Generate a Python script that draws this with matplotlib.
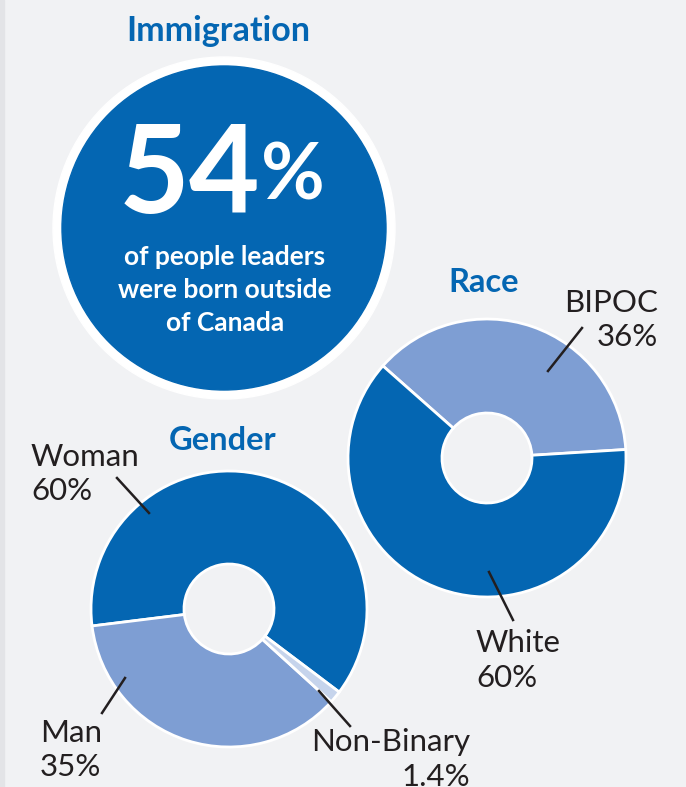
import matplotlib.pyplot as plt
from matplotlib.patches import Circle, Rectangle

# data
race_labels = ["BIPOC", "White"]
race_values = [36, 60]
gender_labels = ["Woman", "Man", "Non-Binary"]
gender_values = [60, 35, 1.4]
immigration_pct = 54

DARK = "#0466b2"
LIGHT = "#7e9ed3"
PALE = "#c6d4ec"
TEXT = "#231f20"
BG = "#f1f2f4"

W, H = 686, 787
fig = plt.figure(figsize=(W / 100, H / 100), dpi=100)
fig.patch.set_facecolor(BG)
ax = fig.add_axes([0, 0, 1, 1])


def Y(y):
    # pixel row from top -> data y
    return H - y


# race donut
ax.pie(race_values, colors=[LIGHT, DARK], startangle=3.5, center=(487, Y(458)),
       radius=139, wedgeprops=dict(width=139 - 45, edgecolor="white", linewidth=2))
# gender donut
ax.pie(gender_values, colors=[DARK, LIGHT, PALE], startangle=-37, center=(229, Y(609)),
       radius=138, wedgeprops=dict(width=138 - 45, edgecolor="white", linewidth=2))

ax.set_xlim(0, W)
ax.set_ylim(0, H)
ax.set_aspect("auto")
ax.axis("off")

# left stripe
ax.add_patch(Rectangle((0, 0), 4, H, color="#e3e4e7", zorder=0))

# immigration circle
ax.add_patch(Circle((224, Y(228)), 171, color="white", zorder=3))
ax.add_patch(Circle((224, Y(228)), 162, color=DARK, zorder=4))

fam = ["Lato", "DejaVu Sans"]
ax.text(218, Y(31), "Immigration", ha="center", va="center", fontsize=24.5,
        fontweight="bold", color=DARK, family=fam, zorder=5)
ax.text(260, Y(178), f"{immigration_pct}", ha="right", va="center", fontsize=88,
        fontweight="bold", color="white", family=fam, zorder=5)
ax.text(261, Y(177), "%", ha="left", va="center", fontsize=56,
        fontweight="bold", color="white", family=fam, zorder=5)
for i, line in enumerate(["of people leaders", "were born outside", "of Canada"]):
    ax.text(225, Y(257 + 33 * i), line, ha="center", va="center", fontsize=19,
            fontweight="bold", color="white", family=fam, zorder=5)

ax.text(484, Y(283), "Race", ha="center", va="center", fontsize=23.5,
        fontweight="bold", color=DARK, family=fam, zorder=5)
ax.text(223, Y(440), "Gender", ha="center", va="center", fontsize=23.5,
        fontweight="bold", color=DARK, family=fam, zorder=5)

lab = dict(fontsize=22.5, fontweight="normal", color=TEXT, family=fam, va="center", zorder=5)
ax.text(658, Y(303), race_labels[0], ha="right", **lab)
ax.text(658, Y(337), f"{race_values[0]}%", ha="right", **lab)
ax.text(476, Y(643), race_labels[1], ha="left", **lab)
ax.text(476, Y(678), f"{race_values[1]}%", ha="left", **lab)
ax.text(31, Y(457), gender_labels[0], ha="left", **lab)
ax.text(31, Y(491), f"{gender_values[0]}%", ha="left", **lab)
ax.text(40, Y(733), gender_labels[1], ha="left", **lab)
ax.text(40, Y(767), f"{gender_values[1]}%", ha="left", **lab)
ax.text(470, Y(742), gender_labels[2], ha="right", **lab)
ax.text(470, Y(777), f"{gender_values[2]}%", ha="right", **lab)

# leader lines
leaders = [((582, 328), (548, 371)), ((117, 478), (149, 513)),
           ((125, 678), (102, 713)), ((319, 691), (350, 726)),
           ((489, 572), (513, 620))]
for (x1, y1), (x2, y2) in leaders:
    ax.plot([x1, x2], [Y(y1), Y(y2)], color=TEXT, lw=1.8, zorder=6)

fig.savefig("out.png", dpi=100, facecolor=BG)
